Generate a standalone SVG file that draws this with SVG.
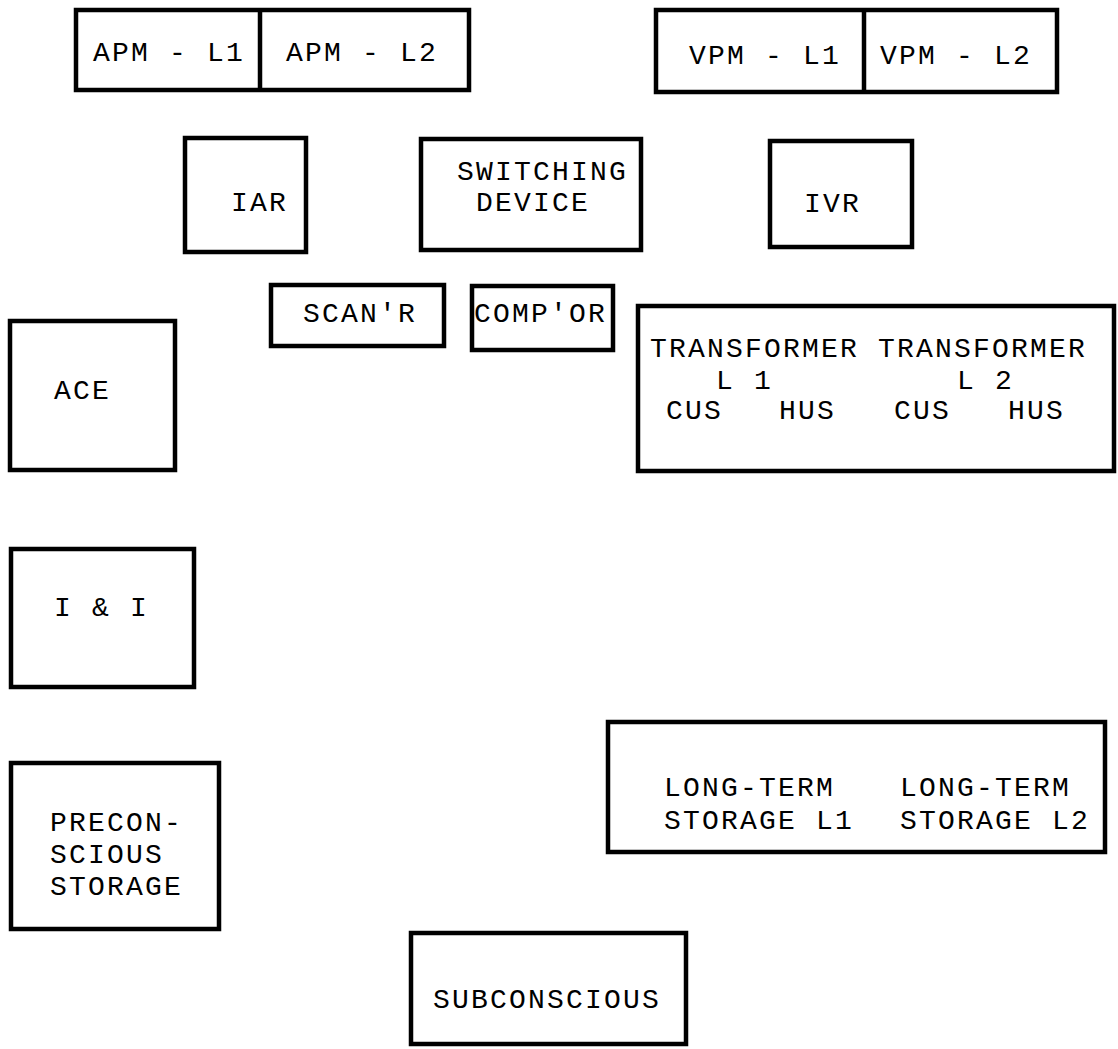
<svg xmlns="http://www.w3.org/2000/svg" width="1118" height="1049" viewBox="0 0 1118 1049">
<style>
rect.box{fill:#fff;stroke:#000;stroke-width:4.5}
line.div{stroke:#000;stroke-width:4.5}
text{font-family:"Liberation Mono","Courier New",monospace;font-size:28px;letter-spacing:2.2px;fill:#000}
</style>
<rect width="1118" height="1049" fill="#fff"/>
<g id="apm">
<rect class="box" x="76" y="10" width="393" height="80"/>
<line class="div" x1="260" y1="10" x2="260" y2="90"/>
<text x="93" y="61">APM - L1</text>
<text x="286" y="61">APM - L2</text>
</g>
<g id="vpm">
<rect class="box" x="656" y="10" width="401" height="82"/>
<line class="div" x1="864" y1="10" x2="864" y2="92"/>
<text x="689" y="64">VPM - L1</text>
<text x="880" y="64">VPM - L2</text>
</g>
<g id="iar">
<rect class="box" x="185" y="138" width="121" height="114"/>
<text x="231" y="211">IAR</text>
</g>
<g id="switching">
<rect class="box" x="421" y="139" width="220" height="111"/>
<text x="457" y="180">SWITCHING</text>
<text x="476" y="211">DEVICE</text>
</g>
<g id="ivr">
<rect class="box" x="770" y="141" width="142" height="106"/>
<text x="804" y="212">IVR</text>
</g>
<g id="scanr">
<rect class="box" x="271" y="285" width="173" height="61"/>
<text x="303" y="322">SCAN'R</text>
</g>
<g id="compor">
<rect class="box" x="472" y="286" width="141" height="64"/>
<text x="474" y="322">COMP'OR</text>
</g>
<g id="transformer">
<rect class="box" x="638" y="306" width="476" height="165"/>
<text x="650" y="357">TRANSFORMER TRANSFORMER</text>
<text x="716" y="389">L 1</text>
<text x="957" y="389">L 2</text>
<text x="666" y="419">CUS</text>
<text x="779" y="419">HUS</text>
<text x="894" y="419">CUS</text>
<text x="1008" y="419">HUS</text>
</g>
<g id="ace">
<rect class="box" x="10" y="321" width="165" height="149"/>
<text x="54" y="399">ACE</text>
</g>
<g id="ii">
<rect class="box" x="11" y="549" width="183" height="138"/>
<text x="54" y="616">I &amp; I</text>
</g>
<g id="preconscious">
<rect class="box" x="11" y="763" width="208" height="166"/>
<text x="50" y="831">PRECON-</text>
<text x="50" y="863">SCIOUS</text>
<text x="50" y="895">STORAGE</text>
</g>
<g id="longterm">
<rect class="box" x="608" y="722" width="497" height="130"/>
<text x="664" y="796">LONG-TERM</text>
<text x="900" y="796">LONG-TERM</text>
<text x="664" y="829">STORAGE L1</text>
<text x="900" y="829">STORAGE L2</text>
</g>
<g id="subconscious">
<rect class="box" x="411" y="933" width="275" height="111"/>
<text x="433" y="1008">SUBCONSCIOUS</text>
</g>
<g id="connectors"></g>
</svg>
